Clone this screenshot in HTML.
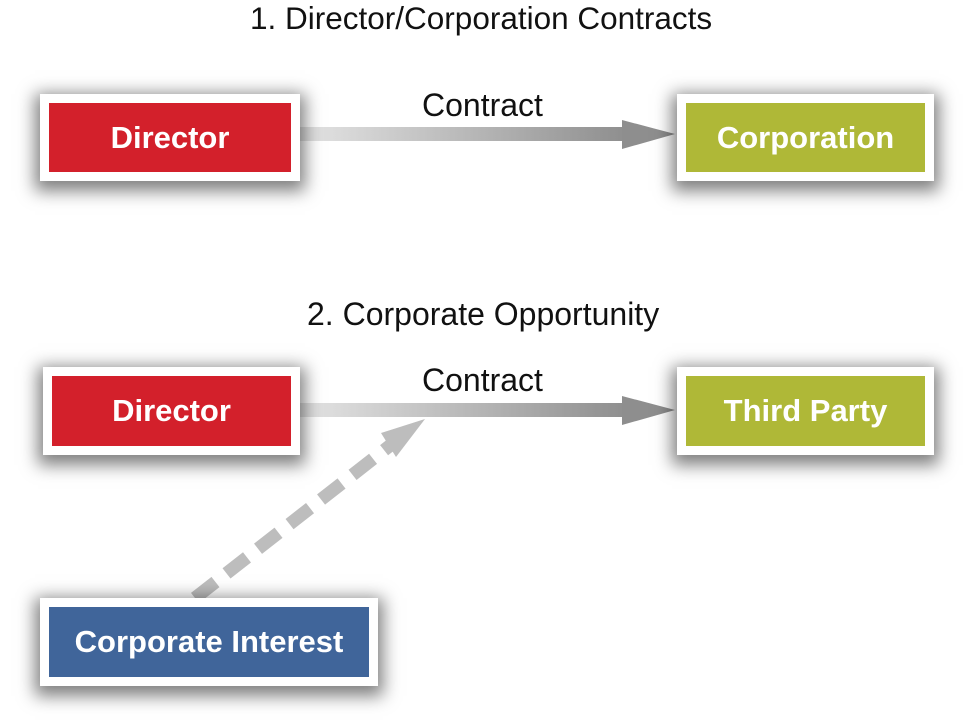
<!DOCTYPE html>
<html><head><meta charset="utf-8"><style>
body{margin:0;width:971px;height:725px;background:#fff;position:relative;overflow:hidden;font-family:"Liberation Sans",sans-serif}
.t{position:absolute;font-size:31px;color:#111;white-space:nowrap}
.box{position:absolute;background:#fff;box-shadow:0 5px 16px 5px rgba(0,0,0,.5)}
.in{position:absolute;left:9px;top:9px;right:9px;bottom:9px;color:#fff;font-weight:bold;font-size:31px;display:flex;align-items:center;justify-content:center}
</style></head><body>
<div class="t" style="left:250px;top:0px;font-size:31.5px">1. Director/Corporation Contracts</div>
<div class="t" style="left:307px;top:296px;font-size:32px">2. Corporate Opportunity</div>
<div class="t" style="left:422px;top:87px;font-size:32px">Contract</div>
<div class="t" style="left:422px;top:362px;font-size:32px">Contract</div>
<svg width="971" height="725" style="position:absolute;left:0;top:0">
<defs><linearGradient id="g" x1="0" x2="1"><stop offset="0" stop-color="#e4e4e4"/><stop offset="1" stop-color="#8e8e8e"/></linearGradient></defs>
<rect x="300" y="127" width="328" height="14" fill="url(#g)"/>
<polygon points="622,120 675,134 622,149" fill="#8e8e8e"/>
<rect x="300" y="403" width="328" height="14" fill="url(#g)"/>
<polygon points="622,396 675,410 622,425" fill="#8e8e8e"/>
<line x1="195" y1="598" x2="392" y2="444" stroke="#bdbdbd" stroke-width="13" stroke-dasharray="26,14"/>
<polygon points="425,419 381,433 396,457" fill="#bdbdbd"/>
</svg>
<div class="box" style="left:40px;top:94px;width:260px;height:87px"><div class="in" style="background:#d3202b">Director</div></div>
<div class="box" style="left:677px;top:94px;width:257px;height:87px"><div class="in" style="background:#afb837">Corporation</div></div>
<div class="box" style="left:43px;top:367px;width:257px;height:88px"><div class="in" style="background:#d3202b">Director</div></div>
<div class="box" style="left:677px;top:367px;width:257px;height:88px"><div class="in" style="background:#afb837">Third Party</div></div>
<div class="box" style="left:40px;top:598px;width:338px;height:88px"><div class="in" style="background:#40659a">Corporate Interest</div></div>
</body></html>
